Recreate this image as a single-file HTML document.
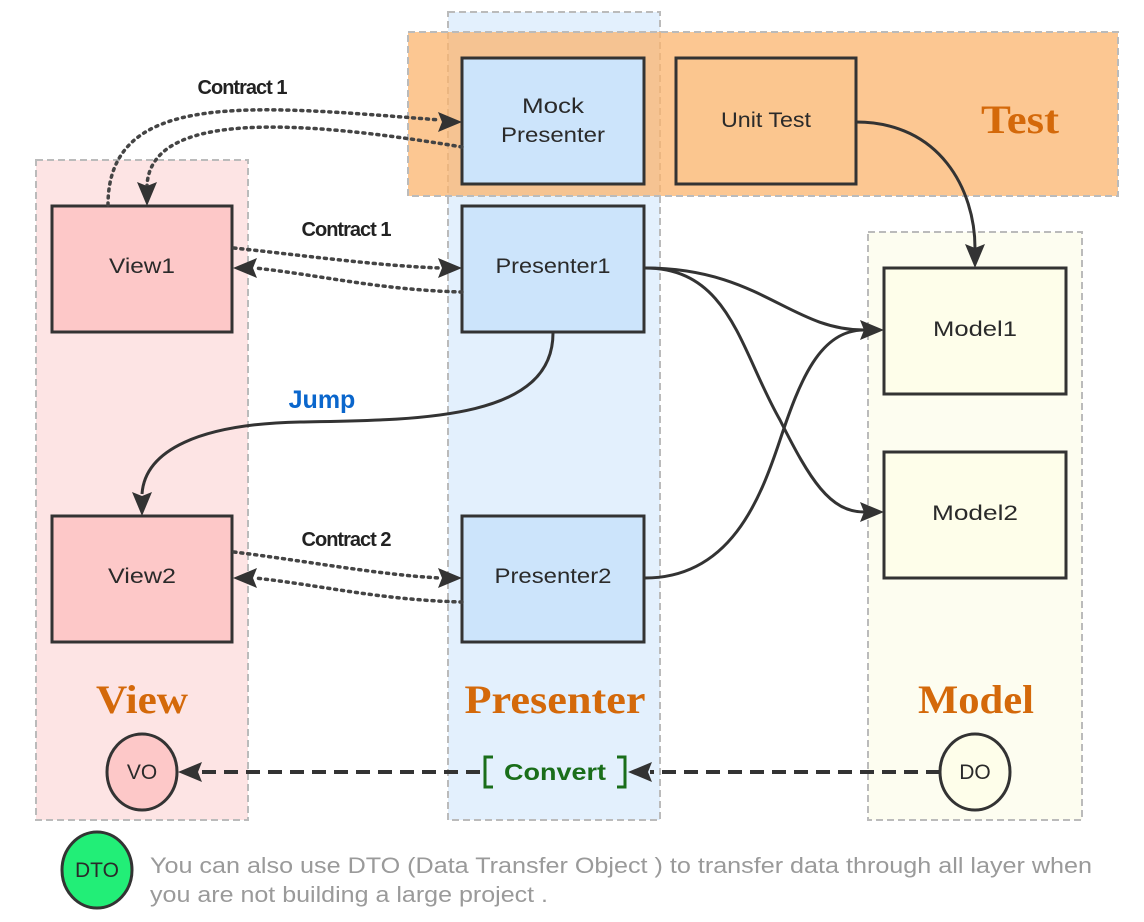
<!DOCTYPE html>
<html><head><meta charset="utf-8"><style>
html,body{margin:0;padding:0;background:#fff;}
svg{display:block;}
.bx{font-family:"Liberation Sans",sans-serif;font-size:21px;fill:#2a2a2a;text-anchor:middle;}
.ct{font-family:"Liberation Sans",sans-serif;font-size:20px;font-weight:bold;fill:#222;text-anchor:middle;letter-spacing:-1px;}
.lay{font-family:"Liberation Serif",serif;font-size:40px;font-weight:bold;fill:#d4690a;text-anchor:middle;}
</style></head><body>
<svg width="1144" height="922" viewBox="0 0 1144 922" xmlns="http://www.w3.org/2000/svg">
<rect x="36" y="160" width="212" height="660" fill="#fde4e4" stroke="#bbb" stroke-width="2" stroke-dasharray="7,4"/>
<rect x="448" y="12" width="212" height="808" fill="#e3f0fd" stroke="#bbb" stroke-width="2" stroke-dasharray="7,4"/>
<rect x="868" y="232" width="214" height="588" fill="#fdfdf0" stroke="#bbb" stroke-width="2" stroke-dasharray="7,4"/>
<rect x="408" y="32" width="710" height="164" fill="#fbb46e" fill-opacity="0.75" stroke="#bbb" stroke-width="2" stroke-dasharray="7,4"/>
<rect x="462" y="58" width="182" height="126" fill="#cce4fb" stroke="#333" stroke-width="3"/>
<text class="bx" x="553" y="113" textLength="62" lengthAdjust="spacingAndGlyphs">Mock</text><text class="bx" x="553" y="142" textLength="104" lengthAdjust="spacingAndGlyphs">Presenter</text>
<rect x="676" y="58" width="180" height="126" fill="#fbc68f" stroke="#333" stroke-width="3"/>
<text class="bx" x="766" y="127" textLength="90" lengthAdjust="spacingAndGlyphs">Unit Test</text>
<text class="lay" x="1020" y="133" textLength="78" lengthAdjust="spacingAndGlyphs">Test</text>
<rect x="52" y="206" width="180" height="126" fill="#fdc8c8" stroke="#333" stroke-width="3"/>
<text class="bx" x="142" y="273" textLength="66" lengthAdjust="spacingAndGlyphs">View1</text>
<rect x="462" y="206" width="182" height="126" fill="#cce4fb" stroke="#333" stroke-width="3"/>
<text class="bx" x="553" y="273" textLength="115" lengthAdjust="spacingAndGlyphs">Presenter1</text>
<rect x="52" y="516" width="180" height="126" fill="#fdc8c8" stroke="#333" stroke-width="3"/>
<text class="bx" x="142" y="583" textLength="68" lengthAdjust="spacingAndGlyphs">View2</text>
<rect x="462" y="516" width="182" height="126" fill="#cce4fb" stroke="#333" stroke-width="3"/>
<text class="bx" x="553" y="583" textLength="117" lengthAdjust="spacingAndGlyphs">Presenter2</text>
<rect x="884" y="268" width="182" height="126" fill="#fefeea" stroke="#333" stroke-width="3"/>
<text class="bx" x="975" y="336" textLength="84" lengthAdjust="spacingAndGlyphs">Model1</text>
<rect x="884" y="452" width="182" height="126" fill="#fefeea" stroke="#333" stroke-width="3"/>
<text class="bx" x="975" y="520" textLength="86" lengthAdjust="spacingAndGlyphs">Model2</text>
<g fill="none" stroke="#444" stroke-width="3.5" stroke-dasharray="2,5" stroke-linecap="round">
<path d="M108,205 C108,90 250,105 440,120"/>
<path d="M462,147 C300,120 150,110 147,186"/>
<path d="M234,248 C300,255 380,266 440,268"/>
<path d="M462,292 C380,290 320,275 255,268"/>
<path d="M234,552 C300,560 380,575 440,578"/>
<path d="M462,602 C380,600 320,585 255,578"/>
</g>
<g fill="#333">
<path d="M462,122 L438,112 L442,122 L438,132 z"/>
<path d="M147,206 L137,182 L147,186 L157,182 z"/>
<path d="M462,268 L438,258 L442,268 L438,278 z"/>
<path d="M233,268 L257,258 L253,268 L257,278 z"/>
<path d="M462,578 L438,568 L442,578 L438,588 z"/>
<path d="M233,578 L257,568 L253,578 L257,588 z"/>
</g>
<text class="ct" x="242" y="94">Contract 1</text>
<text class="ct" x="346" y="236">Contract 1</text>
<text class="ct" x="346" y="546">Contract 2</text>
<g fill="none" stroke="#333" stroke-width="3">
<path d="M856,122 C940,122 975,190 975,248" />
<path d="M645,268 C760,268 790,330 864,330"/>
<path d="M645,268 C730,268 740,350 780,420 C810,480 830,512 864,512"/>
<path d="M645,578 C730,578 760,500 780,440 C800,380 820,330 864,330"/>
<path d="M553,333 C553,420 420,420 300,422 C200,424 145,450 142,494"/>
</g>
<g fill="#333">
<path d="M975,268 L965,244 L975,248 L985,244 z"/>
<path d="M884,330 L860,320 L864,330 L860,340 z"/>
<path d="M884,512 L860,502 L864,512 L860,522 z"/>
<path d="M142,516 L132,492 L142,496 L152,492 z"/>
</g>
<text x="322" y="408" font-family="Liberation Sans,sans-serif" font-size="25" font-weight="bold" fill="#0a66cc" text-anchor="middle">Jump</text>
<text class="lay" x="142" y="713" textLength="92" lengthAdjust="spacingAndGlyphs">View</text>
<text class="lay" x="555" y="713" textLength="181" lengthAdjust="spacingAndGlyphs">Presenter</text>
<text class="lay" x="976" y="713" textLength="116" lengthAdjust="spacingAndGlyphs">Model</text>
<g fill="none" stroke="#333" stroke-width="4" stroke-dasharray="14,8">
<path d="M940,772 L650,772"/>
<path d="M480,772 L200,772"/>
</g>
<path d="M628,772 L652,762 L648,772 L652,782 z" fill="#333"/>
<path d="M178,772 L202,762 L198,772 L202,782 z" fill="#333"/>
<ellipse cx="142" cy="772" rx="35" ry="38" fill="#fdc8c8" stroke="#333" stroke-width="3"/>
<text class="bx" x="142" y="779">VO</text>
<ellipse cx="975" cy="772" rx="35" ry="38" fill="#fefeea" stroke="#333" stroke-width="3"/>
<text class="bx" x="975" y="779">DO</text>
<g fill="none" stroke="#1a6e1a" stroke-width="3">
<path d="M493,757 L485,757 L485,787 L493,787"/>
<path d="M617,757 L625,757 L625,787 L617,787"/>
</g>
<text x="555" y="780" font-family="Liberation Sans,sans-serif" font-size="23" font-weight="bold" fill="#1a6e1a" text-anchor="middle" textLength="102" lengthAdjust="spacingAndGlyphs">Convert</text>
<ellipse cx="97" cy="870" rx="35" ry="38" fill="#22ee77" stroke="#333" stroke-width="3"/>
<text class="bx" x="97" y="877">DTO</text>
<text x="150" y="873" font-family="Liberation Sans,sans-serif" font-size="22" fill="#9a9a9a" textLength="942" lengthAdjust="spacingAndGlyphs">You can also use DTO (Data Transfer Object ) to transfer data through all layer when</text>
<text x="150" y="902" font-family="Liberation Sans,sans-serif" font-size="22" fill="#9a9a9a" textLength="398" lengthAdjust="spacingAndGlyphs">you are not building a large project .</text>
</svg>
</body></html>
